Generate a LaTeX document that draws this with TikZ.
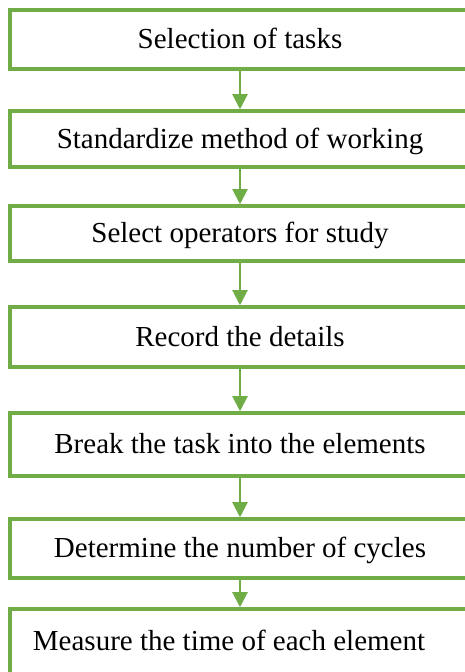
\documentclass[tikz,border=0pt]{standalone}
\usepackage{fontspec}
\setmainfont{Liberation Serif}
\usetikzlibrary{arrows.meta}
\definecolor{boxgreen}{HTML}{70AD47}
\begin{document}
\begin{tikzpicture}[x=1pt,y=1pt,
  stepbox/.style={draw=boxgreen, line width=3.5pt, fill=white, minimum width=460pt,
    inner sep=0pt, text height=21pt, text depth=2pt,
    font=\fontsize{29}{34}\selectfont},
  flow/.style={draw=boxgreen, line width=2pt, -{Triangle[length=15pt,width=15pt]}}]
\useasboundingbox (0,0) rectangle (465,672);
\node[stepbox, minimum height=59pt] (b1) at (240,632.5) {Selection of tasks};
\node[stepbox, minimum height=56pt] (b2) at (240,533) {Standardize method of working};
\node[stepbox, minimum height=55pt] (b3) at (240,438.5) {Select operators for study};
\node[stepbox, minimum height=60pt] (b4) at (240,335) {Record the details};
\node[stepbox, minimum height=63pt] (b5) at (240,227.5) {Break the task into the elements};
\node[stepbox, minimum height=59pt] (b6) at (240,123.5) {Determine the number of cycles};
\node[stepbox, minimum height=80pt, text depth=17pt] (b7) at (240,23) {Measure the time of each element\hspace*{22pt}};
\draw[flow] (b1.south) -- (b2.north);
\draw[flow] (b2.south) -- (b3.north);
\draw[flow] (b3.south) -- (b4.north);
\draw[flow] (b4.south) -- (b5.north);
\draw[flow] (b5.south) -- (b6.north);
\draw[flow] (b6.south) -- (b7.north);
\end{tikzpicture}
\end{document}
